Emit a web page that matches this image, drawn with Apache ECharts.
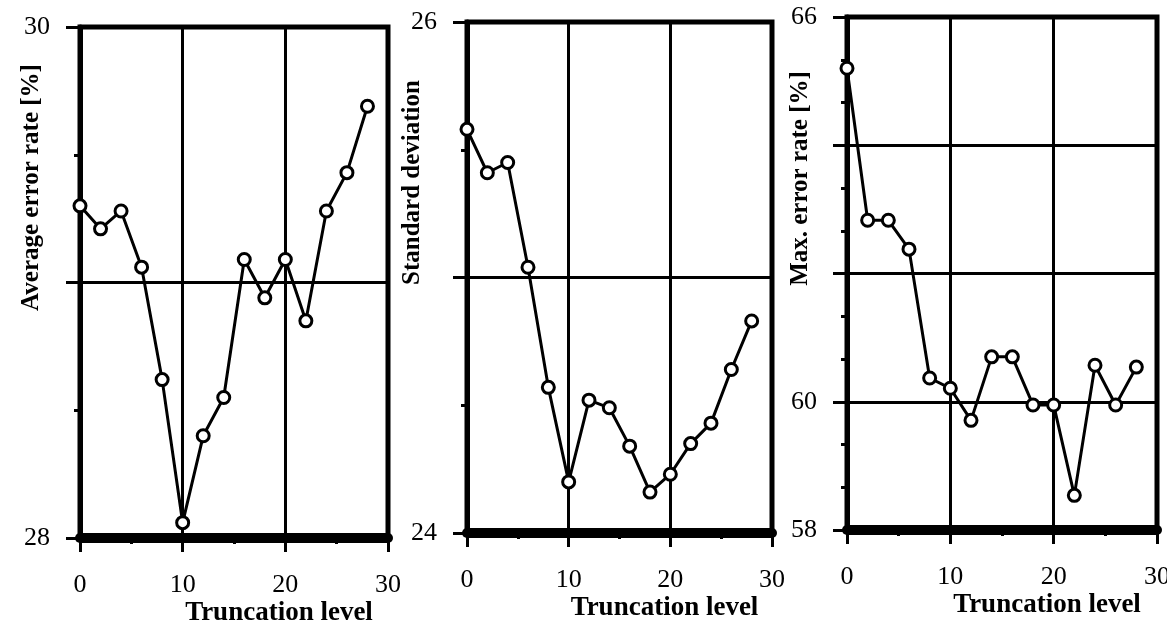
<!DOCTYPE html>
<html>
<head>
<meta charset="utf-8">
<script src="https://cdn.jsdelivr.net/npm/echarts@6/dist/echarts.min.js"></script>
<style>
  html, body { margin: 0; padding: 0; background: #fff; }
  #chart { width: 1167px; height: 625px; }
</style>
</head>
<body>
<div id="chart"></div>
<script>
// Truncation levels shared by the three panels
const truncLevels = [0, 2, 4, 6, 8, 10, 12, 14, 16, 18, 20, 22, 24, 26, 28];

// Average error rate [%]
const avgError = [29.30, 29.21, 29.28, 29.06, 28.62, 28.06, 28.40, 28.55, 29.09, 28.94, 29.09, 28.85, 29.28, 29.43, 29.69];
// Standard deviation
const stdDev = [25.58, 25.41, 25.45, 25.04, 24.57, 24.20, 24.52, 24.49, 24.34, 24.16, 24.23, 24.35, 24.43, 24.64, 24.83];
// Max. error rate [%]
const maxError = [65.2, 62.83, 62.83, 62.38, 60.37, 60.21, 59.71, 60.70, 60.70, 59.95, 59.95, 58.54, 60.57, 59.95, 60.54];

const panelNames = ['Average error rate [%]', 'Standard deviation', 'Max. error rate [%]'];
const yRanges = [[28, 30, 1, 2], [24, 26, 1, 2], [58, 66, 2, 3]]; // min, max, interval, minor splits
const yTickLabels = [[28, 30], [24, 26], [58, 60, 66]];
const xName = 'Truncation level';

document.addEventListener('DOMContentLoaded', function() {
    const chart = echarts.init(document.getElementById('chart'));
    const font = 'Liberation Serif';
    const black = '#000';

    const grids = [
        { left: 80, top: 27, width: 308, height: 511 },
        { left: 467, top: 22, width: 305, height: 511 },
        { left: 847, top: 17, width: 310, height: 513 }
    ].map(g => Object.assign(g, {
        show: true, borderColor: black, borderWidth: 5, backgroundColor: 'transparent',
        containLabel: false, outerBoundsMode: 'none'
    }));

    const yNameGaps = [36, 42, 34];

    const xAxes = grids.map((g, i) => ({
        type: 'value',
        gridIndex: i,
        min: 0,
        max: 30,
        interval: 10,
        name: xName,
        nameLocation: 'middle',
        nameGap: 62,
        nameMoveOverlap: false,
        nameTextStyle: { fontFamily: font, fontSize: 27, fontWeight: 'bold', color: black, padding: [0, 0, 0, 90] },
        axisLine: { show: true, onZero: false, lineStyle: { color: black, width: 10 } },
        axisTick: { show: true, inside: false, length: 14, lineStyle: { color: black, width: 3 } },
        minorTick: { show: true, splitNumber: 2, length: 6, lineStyle: { color: black, width: 3 } },
        axisLabel: { fontFamily: font, fontSize: 26, color: black, margin: 34 },
        splitLine: { show: true, lineStyle: { color: black, width: 3 } }
    }));

    const yAxes = grids.map((g, i) => ({
        type: 'value',
        gridIndex: i,
        min: yRanges[i][0],
        max: yRanges[i][1],
        interval: yRanges[i][2],
        name: panelNames[i],
        nameLocation: 'middle',
        nameGap: yNameGaps[i],
        nameMoveOverlap: false,
        nameTextStyle: { fontFamily: font, fontSize: 25, fontWeight: 'bold', color: black, padding: [0, 0, 0, 190] },
        axisLine: { show: true, onZero: false, lineStyle: { color: black, width: 5 } },
        axisTick: { show: true, inside: false, length: 14, lineStyle: { color: black, width: 3 } },
        minorTick: { show: true, splitNumber: yRanges[i][3], length: 6, lineStyle: { color: black, width: 3 } },
        axisLabel: {
            fontFamily: font, fontSize: 26, color: black, margin: 30,
            formatter: function(v) {
                return yTickLabels[i].indexOf(v) >= 0 ? String(v) : '';
            }
        },
        splitLine: { show: true, lineStyle: { color: black, width: 3 } }
    }));

    const seriesData = [avgError, stdDev, maxError];
    const series = seriesData.map((vals, i) => ({
        type: 'line',
        xAxisIndex: i,
        yAxisIndex: i,
        data: truncLevels.map((t, k) => [t, vals[k]]),
        symbol: 'circle',
        symbolSize: 12,
        showAllSymbol: true,
        z: 5,
        lineStyle: { color: black, width: 3 },
        itemStyle: { color: '#fff', borderColor: black, borderWidth: 3 }
    }));

    const option = {
        animation: false,
        backgroundColor: '#fff',
        grid: grids,
        xAxis: xAxes,
        yAxis: yAxes,
        series: series
    };
    chart.setOption(option);
});
</script>
</body>
</html>
